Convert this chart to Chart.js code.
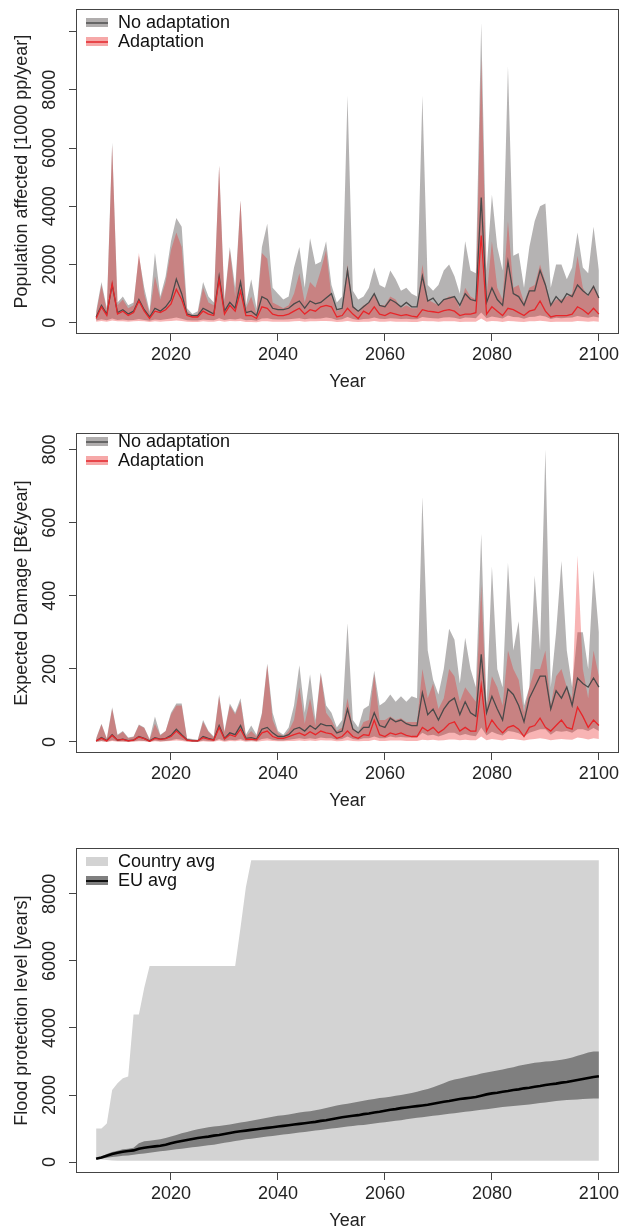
<!DOCTYPE html>
<html>
<head>
<meta charset="utf-8">
<script src="https://cdn.jsdelivr.net/npm/chart.js@4"></script>
<style>
  body { margin: 0; background: #fff; overflow: hidden; width: 627px; height: 1231px; position: relative;
         font-family: "Liberation Sans", Arial, sans-serif; }
  .panel { position: absolute; left: 0; width: 627px; height: 420px; }
  .legend { position: absolute; left: 86px; top: 13px; font-size: 18px; line-height: 19px; color: #111; }
  .legend div { display: flex; align-items: center; height: 19px; }
  .sw { width: 22px; height: 9px; margin-right: 10px; position: relative; }
  .sw i { position: absolute; left: 0; right: 0; top: 3.5px; height: 2px; }
</style>
</head>
<body>
<div class="panel" style="top:0"><canvas id="c1" width="627" height="420"></canvas><div class="legend" id="l1"></div></div>
<div class="panel" style="top:419px"><canvas id="c2" width="627" height="420"></canvas><div class="legend" id="l2"></div></div>
<div class="panel" style="top:839px"><canvas id="c3" width="627" height="420"></canvas><div class="legend" id="l3"></div></div>
<script>
const years = Array.from({ length: 95 }, (_, i) => 2006 + i);
const xTicks = [2020, 2040, 2060, 2080, 2100];

// Panel 1: population affected [1000 pp/year]
const yTicks1 = [0, 2000, 4000, 6000, 8000, 10000];
const yLabels1 = ['0', '2000', '4000', '6000', '8000', ''];
const naHi1 = [
  400, 1400, 500, 6200, 700, 900, 600, 700, 2300, 1200,
  400, 2400, 900, 1600, 2800, 3600, 3300, 500, 300, 400,
  1400, 900, 700, 5400, 800, 2600, 1200, 4200, 600, 1500,
  500, 2600, 3400, 1200, 1000, 800, 900, 1900, 2600, 1200,
  2900, 2000, 2100, 2800, 1300, 700, 900, 7800, 1100, 800,
  900, 1200, 1900, 1300, 1200, 1800, 1500, 1100, 1200, 1000,
  900, 7800, 1300, 1100, 1300, 1800, 2000, 1600, 1000, 2800,
  1800, 1700, 10300, 1800, 4400, 2600, 1800, 8800, 2300, 2400,
  1200, 2600, 3500, 4000, 4100, 1200, 2000, 2000, 1500, 1900,
  3100, 1900, 1700, 3300, 1800];
const naLo1 = [
  80, 120, 90, 150, 100, 110, 90, 100, 130, 100,
  70, 110, 100, 120, 150, 180, 140, 90, 80, 80,
  110, 100, 90, 160, 100, 130, 110, 150, 90, 100,
  70, 150, 160, 120, 110, 110, 120, 140, 160, 120,
  150, 140, 150, 180, 160, 100, 120, 200, 130, 100,
  130, 140, 180, 140, 130, 160, 150, 130, 140, 120,
  120, 200, 170, 160, 150, 180, 190, 170, 130, 180,
  170, 160, 350, 160, 220, 180, 150, 250, 200, 190,
  140, 200, 210, 250, 220, 130, 170, 160, 170, 180,
  230, 200, 170, 220, 180];
const naMid1 = [
  200, 600, 300, 1300, 350, 450, 300, 400, 800, 450,
  200, 500, 400, 550, 800, 1500, 1000, 300, 250, 250,
  500, 400, 300, 1600, 400, 700, 500, 1400, 350, 400,
  250, 900, 800, 500, 450, 450, 500, 650, 750, 500,
  750, 650, 700, 850, 1000, 450, 500, 1800, 550, 400,
  550, 700, 1000, 600, 550, 800, 700, 550, 700, 550,
  550, 1600, 750, 850, 600, 800, 850, 900, 600, 1000,
  800, 750, 4300, 700, 1200, 800, 600, 2100, 1000, 900,
  600, 1100, 1100, 1800, 1300, 600, 900, 700, 1000, 900,
  1300, 1100, 950, 1250, 850];
const adHi1 = [
  300, 1300, 400, 6100, 600, 800, 500, 600, 2400, 1000,
  300, 1600, 800, 1400, 2500, 3100, 2600, 400, 250, 300,
  1200, 700, 600, 5400, 700, 2500, 900, 4200, 500, 900,
  300, 2400, 2200, 700, 600, 500, 600, 1000, 1700, 700,
  1400, 1200, 1800, 2500, 900, 400, 500, 2000, 600, 400,
  600, 700, 1000, 600, 600, 900, 800, 500, 600, 500,
  500, 2000, 800, 700, 600, 800, 900, 900, 500, 1200,
  900, 800, 9100, 900, 2800, 1200, 800, 3500, 1200, 1300,
  700, 1200, 1300, 2000, 1400, 600, 800, 800, 900, 1000,
  2300, 1200, 900, 1300, 900];
const adLo1 = [
  40, 60, 40, 80, 50, 50, 40, 50, 60, 50,
  30, 50, 40, 50, 60, 80, 60, 40, 30, 30,
  50, 40, 40, 70, 40, 60, 50, 60, 30, 30,
  20, 50, 50, 40, 40, 40, 40, 50, 60, 40,
  50, 50, 60, 60, 50, 30, 40, 60, 40, 30,
  40, 40, 60, 40, 40, 50, 40, 40, 40, 30,
  30, 60, 50, 50, 40, 50, 50, 50, 30, 40,
  40, 40, 150, 40, 60, 50, 30, 60, 50, 40,
  30, 50, 50, 70, 50, 30, 40, 40, 40, 40,
  60, 50, 40, 50, 40];
const adMid1 = [
  150, 550, 250, 1350, 300, 400, 250, 350, 750, 400,
  150, 400, 350, 450, 650, 1150, 800, 250, 200, 200,
  400, 300, 250, 1500, 300, 600, 400, 1100, 250, 250,
  150, 550, 500, 300, 250, 250, 300, 400, 500, 300,
  450, 400, 550, 600, 550, 200, 250, 500, 300, 150,
  400, 300, 550, 300, 250, 350, 300, 250, 280, 230,
  200, 450, 400, 380, 350, 420, 450, 400, 250, 300,
  300, 350, 3000, 300, 550, 400, 250, 500, 450, 350,
  250, 400, 450, 750, 400, 200, 250, 250, 250, 300,
  550, 450, 300, 500, 300];

// Panel 2: expected damage [B€/year]
const yTicks2 = [0, 200, 400, 600, 800];
const naHi2 = [
  10, 50, 10, 95, 20, 30, 12, 15, 48, 40,
  8, 70, 20, 30, 80, 105, 105, 10, 8, 6,
  60, 30, 15, 130, 30, 105, 80, 120, 20, 45,
  20, 80, 215, 80, 30, 20, 40, 100, 210, 80,
  185, 60, 190, 100, 80, 40, 60, 325, 60, 40,
  90, 100, 195, 100, 110, 130, 110, 125, 110, 125,
  120, 670, 250, 170, 130, 200, 310, 280, 160, 285,
  200, 150, 570, 100, 480, 200, 150, 490, 250, 330,
  100, 150, 455, 250, 800, 150, 300, 495, 250, 150,
  300, 300, 200, 470, 300];
const naLo2 = [
  1, 3, 1, 5, 2, 2, 1, 2, 4, 3,
  1, 4, 2, 3, 5, 8, 6, 2, 1, 1,
  4, 3, 2, 8, 3, 6, 5, 8, 3, 4,
  2, 8, 10, 6, 4, 4, 6, 8, 10, 8,
  10, 8, 12, 10, 10, 6, 8, 15, 8, 6,
  10, 10, 15, 10, 10, 15, 12, 14, 12, 12,
  12, 25, 18, 20, 15, 20, 25, 25, 18, 22,
  18, 16, 40, 18, 28, 22, 18, 30, 28, 24,
  15, 25, 30, 35, 35, 20, 30, 28, 30, 25,
  35, 35, 30, 38, 30];
const naMid2 = [
  3, 12, 4, 20, 5, 8, 4, 5, 15, 10,
  3, 12, 8, 10, 18, 35, 20, 6, 4, 3,
  15, 10, 6, 45, 10, 25, 20, 45, 10, 12,
  8, 35, 40, 25, 15, 15, 20, 35, 40, 30,
  45, 35, 50, 45, 45, 25, 30, 90, 35, 25,
  40, 40, 80, 45, 40, 65, 55, 60, 50, 45,
  45, 135, 75, 90, 60, 90, 110, 120, 75, 110,
  80, 70, 240, 80, 125, 90, 60, 145, 130, 100,
  55, 120, 150, 180, 180, 90, 140, 120, 150, 100,
  175, 160, 150, 175, 150];
const adHi2 = [
  8, 48, 8, 90, 18, 28, 10, 14, 46, 38,
  6, 50, 18, 30, 75, 100, 100, 8, 6, 5,
  55, 28, 12, 125, 25, 100, 75, 110, 15, 30,
  15, 75, 210, 60, 25, 15, 30, 60, 150, 50,
  120, 45, 185, 80, 60, 30, 40, 120, 40, 25,
  55, 60, 185, 60, 60, 70, 60, 65, 55, 55,
  55, 200, 120, 160, 90, 120, 200, 180, 110, 150,
  130, 110, 430, 90, 180, 150, 100, 250, 200, 170,
  80, 150, 200, 200, 250, 100, 180, 200, 150, 120,
  510, 200, 120, 250, 180];
const adLo2 = [
  0, 2, 0, 3, 1, 1, 0, 1, 2, 2,
  0, 2, 1, 2, 3, 4, 3, 1, 0, 0,
  2, 1, 1, 4, 1, 3, 2, 4, 1, 2,
  1, 3, 4, 3, 2, 2, 3, 3, 4, 3,
  4, 3, 5, 4, 4, 2, 3, 5, 3, 2,
  3, 3, 6, 3, 3, 4, 4, 4, 3, 3,
  3, 6, 5, 6, 4, 5, 7, 7, 5, 6,
  5, 5, 15, 5, 8, 6, 4, 8, 8, 6,
  4, 7, 8, 10, 8, 5, 7, 8, 7, 6,
  12, 10, 7, 10, 8];
const adMid2 = [
  3, 10, 3, 18, 5, 7, 3, 5, 14, 9,
  2, 10, 7, 9, 15, 30, 17, 5, 3, 3,
  12, 8, 5, 40, 8, 20, 15, 35, 7, 8,
  6, 25, 30, 15, 10, 10, 15, 20, 25, 18,
  28, 20, 30, 25, 22, 10, 15, 30, 15, 10,
  20, 18, 60, 20, 15, 25, 20, 25, 18, 15,
  15, 40, 30, 40, 25, 35, 50, 55, 30, 40,
  30, 30, 155, 30, 60, 40, 25, 40, 45, 35,
  15, 40, 45, 65, 40, 30, 45, 60, 40, 35,
  95, 70, 40, 60, 45];

// Panel 3: flood protection level [years]
const yTicks3 = [0, 2000, 4000, 6000, 8000];
const ctHi3 = [
  1000, 1000, 1150, 2150, 2350, 2500, 2550, 4400, 4400, 5200,
  5850, 5850, 5850, 5850, 5850, 5850, 5850, 5850, 5850, 5850,
  5850, 5850, 5850, 5850, 5850, 5850, 5850, 7000, 8200, 9000,
  9000, 9000, 9000, 9000, 9000, 9000, 9000, 9000, 9000, 9000,
  9000, 9000, 9000, 9000, 9000, 9000, 9000, 9000, 9000, 9000,
  9000, 9000, 9000, 9000, 9000, 9000, 9000, 9000, 9000, 9000,
  9000, 9000, 9000, 9000, 9000, 9000, 9000, 9000, 9000, 9000,
  9000, 9000, 9000, 9000, 9000, 9000, 9000, 9000, 9000, 9000,
  9000, 9000, 9000, 9000, 9000, 9000, 9000, 9000, 9000, 9000,
  9000, 9000, 9000, 9000, 9000];
const ctLo3 = [
  100, 80, 60, 50, 40, 40, 40, 40, 40, 40,
  40, 40, 40, 40, 40, 40, 40, 40, 40, 40,
  40, 40, 40, 40, 40, 40, 40, 40, 40, 40,
  40, 40, 40, 40, 40, 40, 40, 40, 40, 40,
  40, 40, 40, 40, 40, 40, 40, 40, 40, 40,
  40, 40, 40, 40, 40, 40, 40, 40, 40, 40,
  40, 40, 40, 40, 40, 40, 40, 40, 40, 40,
  40, 40, 40, 40, 40, 40, 40, 40, 40, 40,
  40, 40, 40, 40, 40, 40, 40, 40, 40, 40,
  40, 40, 40, 40, 40];
const euHi3 = [
  100, 170, 240, 300, 340, 380, 400, 430, 560, 620,
  640, 660, 680, 720, 760, 810, 860, 900, 940, 980,
  1010, 1040, 1060, 1080, 1100, 1120, 1150, 1180, 1200, 1230,
  1260, 1290, 1320, 1350, 1380, 1400, 1420, 1450, 1480, 1500,
  1520, 1550, 1580, 1610, 1650, 1690, 1720, 1740, 1770, 1800,
  1830, 1860, 1880, 1910, 1930, 1950, 1980, 2000, 2030, 2060,
  2100, 2140, 2180, 2230, 2290, 2350, 2420, 2460, 2490, 2530,
  2570, 2600, 2640, 2670, 2700, 2730, 2760, 2800, 2830, 2870,
  2900, 2930, 2960, 2980, 3000, 3010, 3030, 3050, 3080, 3120,
  3170, 3220, 3270, 3300, 3300];
const euLo3 = [
  100, 110, 130, 150, 170, 190, 200, 220, 240, 260,
  280, 300, 320, 340, 360, 380, 400, 420, 440, 460,
  480, 500, 520, 550, 580, 600, 630, 650, 680, 700,
  720, 740, 760, 780, 800, 820, 840, 860, 880, 900,
  920, 940, 960, 980, 1000, 1020, 1040, 1060, 1080, 1100,
  1110, 1130, 1150, 1170, 1190, 1210, 1230, 1250, 1280, 1300,
  1320, 1340, 1360, 1380, 1400, 1420, 1440, 1460, 1480, 1500,
  1520, 1540, 1560, 1580, 1600, 1620, 1640, 1660, 1670, 1690,
  1700, 1720, 1740, 1760, 1780, 1800, 1820, 1840, 1850, 1860,
  1870, 1880, 1890, 1900, 1900];
const euMid3 = [
  100, 140, 190, 240, 280, 310, 330, 350, 400, 430,
  450, 470, 490, 520, 560, 600, 630, 660, 690, 720,
  740, 760, 790, 810, 840, 870, 900, 920, 940, 960,
  980, 1000, 1020, 1040, 1060, 1080, 1100, 1120, 1140, 1160,
  1180, 1200, 1230, 1250, 1280, 1310, 1340, 1360, 1380, 1400,
  1430, 1450, 1480, 1500, 1530, 1560, 1580, 1610, 1630, 1650,
  1670, 1690, 1710, 1740, 1770, 1800, 1820, 1850, 1880, 1900,
  1920, 1940, 1980, 2020, 2050, 2070, 2100, 2120, 2150, 2170,
  2200, 2220, 2250, 2270, 2300, 2320, 2340, 2370, 2390, 2420,
  2450, 2480, 2510, 2540, 2560];

const GRAY_BAND = 'rgba(120,116,116,0.55)';
const GRAY_LINE = '#4a4a4a';
const RED_BAND = 'rgba(235,40,40,0.35)';
const RED_LINE = '#e8262a';
const FONT = { family: '"Liberation Sans", Arial, sans-serif', size: 18 };
const INK = '#222';

// box round the plot region, like R's bty="o"
const boxPlugin = {
  id: 'box',
  afterDraw(chart) {
    const { ctx, chartArea: a } = chart;
    ctx.save();
    ctx.strokeStyle = '#444';
    ctx.lineWidth = 1;
    ctx.strokeRect(Math.round(a.left) + 0.5, Math.round(a.top) + 0.5,
      Math.round(a.right - a.left) - 1, Math.round(a.bottom - a.top) - 1);
    ctx.restore();
  }
};

function band(lo, hi, color, order) {
  const none = { borderWidth: 0, borderColor: 'rgba(0,0,0,0)', pointRadius: 0, order };
  return [
    { ...none, data: lo, fill: false },
    { ...none, data: hi, backgroundColor: color, fill: '-1' }
  ];
}

function line(data, color, width, order) {
  return { data, borderColor: color, borderWidth: width, pointRadius: 0, fill: false, order };
}

function makeChart(id, datasets, y) {
  return new Chart(document.getElementById(id), {
    type: 'line',
    data: { labels: years, datasets },
    options: {
      responsive: false,
      animation: false,
      layout: { padding: { top: 6, right: 8, left: 0, bottom: 0 } },
      plugins: { legend: { display: false }, tooltip: { enabled: false } },
      scales: {
        x: {
          type: 'linear', min: 2002.24, max: 2103.76,
          afterBuildTicks: s => { s.ticks = xTicks.map(v => ({ value: v })); },
          afterFit: s => { s.height = 86; },
          grid: { drawOnChartArea: false, tickLength: 7, color: '#444' },
          border: { display: false },
          ticks: { font: FONT, color: INK, padding: 3, maxRotation: 0, autoSkip: false, callback: v => String(v) },
          title: { display: true, text: 'Year', font: FONT, color: INK, padding: { top: 0, bottom: 27 } }
        },
        y: {
          min: y.min, max: y.max,
          afterBuildTicks: s => { s.ticks = y.ticks.map(v => ({ value: v })); },
          afterFit: s => { s.width = 76; },
          grid: { drawOnChartArea: false, tickLength: 7, color: '#444' },
          border: { display: false },
          ticks: { font: FONT, color: INK, minRotation: 90, maxRotation: 90, crossAlign: 'center',
                   padding: y.pad, autoSkip: false, callback: (v, i) => y.labels[i] },
          title: { display: true, text: y.title, font: FONT, color: INK, padding: { top: 11, bottom: 0 } }
        }
      }
    },
    plugins: [boxPlugin]
  });
}

function legend(id, items) {
  document.getElementById(id).innerHTML = items.map(it =>
    '<div><span class="sw" style="background:' + it.fill + '">' +
    (it.line ? '<i style="background:' + it.line + '"></i>' : '') +
    '</span>' + it.label + '</div>').join('');
}

makeChart('c1', [
  ...band(naLo1, naHi1, GRAY_BAND, 4),
  ...band(adLo1, adHi1, RED_BAND, 3),
  line(naMid1, GRAY_LINE, 1.3, 2),
  line(adMid1, RED_LINE, 1.3, 1)
], { min: -384, max: 10765, ticks: yTicks1, labels: yLabels1, pad: -1.5,
     title: 'Population affected [1000 pp/year]' });

makeChart('c2', [
  ...band(naLo2, naHi2, GRAY_BAND, 4),
  ...band(adLo2, adHi2, RED_BAND, 3),
  line(naMid2, GRAY_LINE, 1.3, 2),
  line(adMid2, RED_LINE, 1.3, 1)
], { min: -30.1, max: 844.5, ticks: yTicks2, labels: yTicks2.map(String), pad: 3.5,
     title: 'Expected Damage [B\u20ac/year]' });

makeChart('c3', [
  ...band(ctLo3, ctHi3, '#d3d3d3', 4),
  ...band(euLo3, euHi3, '#7f7f7f', 3),
  line(euMid3, '#000', 2.6, 1)
], { min: -325, max: 9359, ticks: yTicks3, labels: yTicks3.map(String), pad: -1.5,
     title: 'Flood protection level [years]' });

legend('l1', [
  { label: 'No adaptation', fill: '#b0adad', line: '#666' },
  { label: 'Adaptation', fill: '#f6a8a8', line: '#e8464a' }
]);
legend('l2', [
  { label: 'No adaptation', fill: '#b0adad', line: '#666' },
  { label: 'Adaptation', fill: '#f6a8a8', line: '#e8464a' }
]);
legend('l3', [
  { label: 'Country avg', fill: '#d3d3d3' },
  { label: 'EU avg', fill: '#7f7f7f', line: '#111' }
]);
</script>
</body>
</html>
